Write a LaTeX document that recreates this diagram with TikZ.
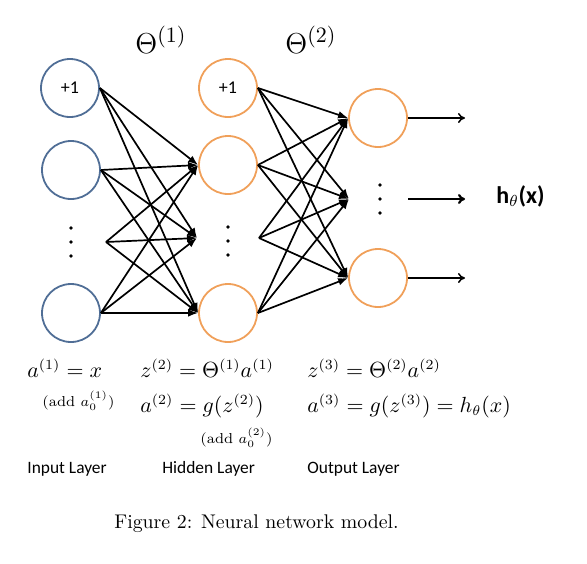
\documentclass[tikz,border=0pt]{standalone}
\usepackage{fontspec}
\newfontfamily\calib{Carlito}
\usetikzlibrary{arrows.meta}
\definecolor{inblue}{RGB}{80,110,150}
\definecolor{hidor}{RGB}{240,160,90}
\begin{document}
\begin{tikzpicture}[x=0.5pt,y=-0.5pt,
  neuron/.style={circle,draw,line width=0.9pt,minimum size=29pt,inner sep=0pt,font=\calib\fontsize{9}{10}\selectfont},
  inneuron/.style={neuron,draw=inblue},
  hidneuron/.style={neuron,draw=hidor},
  edge/.style={line width=0.85pt,-{Latex[length=5pt,width=3.8pt]}},
  outarrow/.style={line width=0.75pt,-{To[length=3.5pt,width=5pt]}},
  vdot/.style={circle,fill=black,inner sep=0pt,minimum size=1.8pt},
  lbl/.style={anchor=base west,inner sep=0pt},
  eq/.style={lbl,font=\fontsize{10.5}{13}\selectfont},
  addnote/.style={lbl,font=\fontsize{7.2}{9}\selectfont},
  layer/.style={lbl,font=\calib\fontsize{8.7}{10}\selectfont},
  theta/.style={lbl,font=\fontsize{15}{18}\selectfont}]
\useasboundingbox (0,0) rectangle (587,563);

% input layer
\node[inneuron] (i1) at (70,88) {+1};
\node[inneuron] (i2) at (71,170) {};
\node[inneuron] (i4) at (71,313) {};
\coordinate (i3) at (106,242);
\node[vdot] (di1) at (71,228) {};
\node[vdot] (di2) at (71,242) {};
\node[vdot] (di3) at (71,256) {};

% hidden layer
\node[hidneuron] (h1) at (228,88) {+1};
\node[hidneuron] (h2) at (228,165) {};
\node[hidneuron] (h4) at (228,313) {};
\coordinate (h3in) at (197,238);
\coordinate (h3out) at (259,238);
\node[vdot] (dh1) at (228,227) {};
\node[vdot] (dh2) at (228,241) {};
\node[vdot] (dh3) at (228,255) {};

% output layer
\node[hidneuron] (o1) at (378,118) {};
\node[hidneuron] (o3) at (378,278) {};
\coordinate (o2in) at (349,199);
\coordinate (o2out) at (408,199);
\node[vdot] (do1) at (380,185) {};
\node[vdot] (do2) at (380,199) {};
\node[vdot] (do3) at (380,213) {};

% edges layer 1
\foreach \s in {i1.east,i2.east,i3,i4.east}
  \foreach \t in {h2.west,h3in,h4.west}
    \draw[edge] (\s) -- (\t);
% edges layer 2
\foreach \s in {h1.east,h2.east,h3out,h4.east}
  \foreach \t in {o1.west,o2in,o3.west}
    \draw[edge] (\s) -- (\t);

% outputs
\coordinate (e1) at (465,118);
\coordinate (e2) at (465,199);
\coordinate (e3) at (465,278);
\draw[outarrow] (o1.east) -- (e1);
\draw[outarrow,line width=1.1pt] (o2out) -- (e2);
\draw[outarrow] (o3.east) -- (e3);
\node[lbl,font=\calib\bfseries\fontsize{12}{14}\selectfont] (hx) at (496,203) {h$_\theta$(x)};

% Thetas
\node[theta] (t1) at (135,53) {$\Theta^{(1)}$};
\node[theta] (t2) at (285,53) {$\Theta^{(2)}$};

% equations
\node[eq] (q1) at (27,377) {$a^{(1)} = x$};
\node[addnote] (n1) at (42,406) {(add $a_0^{(1)}$)};
\node[eq] (q2) at (140,377) {$z^{(2)} = \Theta^{(1)}a^{(1)}$};
\node[eq] (q3) at (140,412) {$a^{(2)} = g(z^{(2)})$};
\node[addnote] (n2) at (200,443) {(add $a_0^{(2)}$)};
\node[eq] (q4) at (307,377) {$z^{(3)} = \Theta^{(2)}a^{(2)}$};
\node[eq] (q5) at (307,412) {$a^{(3)} = g(z^{(3)}) = h_\theta(x)$};

% layer names
\node[layer] (l1) at (27,473) {Input Layer};
\node[layer] (l2) at (162,473) {Hidden Layer};
\node[layer] (l3) at (307,473) {Output Layer};

% caption
\node[anchor=base,inner sep=0pt,font=\fontsize{9.9}{12}\selectfont] (cap) at (256.5,528) {Figure 2: Neural network model.};
\end{tikzpicture}
\end{document}
